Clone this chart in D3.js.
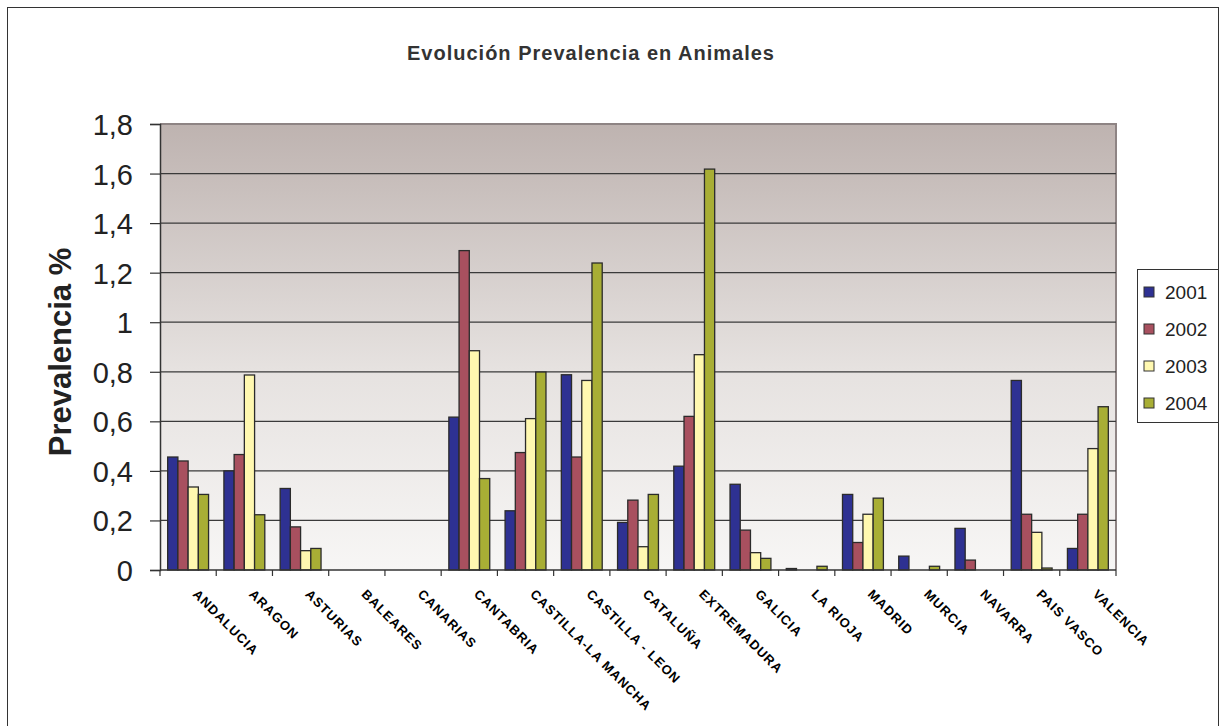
<!DOCTYPE html>
<html>
<head>
<meta charset="utf-8">
<script src="https://cdn.jsdelivr.net/npm/d3@7"></script>
<style>
  body { margin: 0; background: #fff; }
  svg { font-family: "Liberation Sans", Arial, sans-serif; }
</style>
</head>
<body>
<svg width="1220" height="726"></svg>
<script>
// regions and yearly prevalence (%)
const regions = ['ANDALUCIA', 'ARAGON', 'ASTURIAS', 'BALEARES', 'CANARIAS', 'CANTABRIA',
    'CASTILLA-LA MANCHA', 'CASTILLA - LEON', 'CATALUÑA', 'EXTREMADURA', 'GALICIA',
    'LA RIOJA', 'MADRID', 'MURCIA', 'NAVARRA', 'PAIS VASCO', 'VALENCIA'];
const years = ['2001', '2002', '2003', '2004'];
const v2001 = [0.456, 0.40, 0.329, 0, 0, 0.617, 0.239, 0.788, 0.192, 0.419, 0.346, 0.006, 0.305, 0.056, 0.168, 0.765, 0.087];
const v2002 = [0.44, 0.466, 0.174, 0, 0, 1.289, 0.474, 0.456, 0.282, 0.62, 0.161, 0, 0.111, 0, 0.04, 0.225, 0.225];
const v2003 = [0.335, 0.787, 0.078, 0, 0, 0.885, 0.611, 0.765, 0.094, 0.869, 0.07, 0, 0.225, 0, 0, 0.152, 0.49];
const v2004 = [0.305, 0.223, 0.087, 0, 0, 0.369, 0.799, 1.239, 0.305, 1.618, 0.047, 0.015, 0.29, 0.015, 0, 0.008, 0.659];
const yTicks = [0, 0.2, 0.4, 0.6, 0.8, 1, 1.2, 1.4, 1.6, 1.8];

const colors = ['#2E3192', '#A8505F', '#FFF8B0', '#A8AE35'];
const seriesVals = [v2001, v2002, v2003, v2004];

const plot = { left: 160, right: 1116, top: 124, bottom: 570 };

const svg = d3.select('svg');

// outer frame
svg.append('rect')
    .attr('x', 7.5).attr('y', 7.5)
    .attr('width', 1211).attr('height', 730)
    .attr('fill', '#fff')
    .attr('stroke', '#333').attr('stroke-width', 1);

// background gradient for plot area
const grad = svg.append('defs').append('linearGradient')
    .attr('id', 'bg').attr('x1', 0).attr('y1', 0).attr('x2', 0).attr('y2', 1);
grad.append('stop').attr('offset', '0%').attr('stop-color', '#BEB3B0');
grad.append('stop').attr('offset', '55%').attr('stop-color', '#E6E2E0');
grad.append('stop').attr('offset', '100%').attr('stop-color', '#F7F6F5');

svg.append('rect')
    .attr('x', plot.left).attr('y', plot.top)
    .attr('width', plot.right - plot.left).attr('height', plot.bottom - plot.top)
    .attr('fill', 'url(#bg)');

// top and right border of plot area
svg.append('path')
    .attr('d', `M${plot.left},${plot.top}H${plot.right}V${plot.bottom}`)
    .attr('fill', 'none').attr('stroke', '#8E8484').attr('stroke-width', 2);

const x = d3.scaleBand()
    .domain(regions)
    .range([plot.left, plot.right])
    .padding(0);

const xSub = d3.scaleBand()
    .domain(years)
    .range([0, x.bandwidth()])
    .paddingInner(0)
    .paddingOuter(0.75);

const y = d3.scaleLinear()
    .domain([0, 1.8])
    .range([plot.bottom, plot.top]);

const fmt = d3.formatLocale({ decimal: ',', thousands: '.', grouping: [3], currency: ['', '€'] }).format('.1~f');

// gridlines
svg.append('g')
    .selectAll('line')
    .data(yTicks.filter(d => d > 0 && d < 1.8))
    .join('line')
    .attr('x1', plot.left).attr('x2', plot.right)
    .attr('y1', d => y(d)).attr('y2', d => y(d))
    .attr('stroke', '#3a3a3a').attr('stroke-width', 1.2);

// y axis
const yAxis = svg.append('g')
    .attr('transform', `translate(${plot.left}, 0)`)
    .call(d3.axisLeft(y).tickValues(yTicks).tickFormat(fmt).tickSize(10).tickPadding(17));
yAxis.select('.domain').attr('stroke', '#333').attr('stroke-width', 1.5);
yAxis.selectAll('.tick line').attr('stroke', '#333').attr('stroke-width', 1.2);
yAxis.selectAll('text')
    .attr('font-size', 29)
    .attr('fill', '#222')
    .attr('font-family', '"Liberation Sans", Arial, sans-serif')
    .attr('dy', '0.36em');

// bars
const groups = svg.append('g')
    .selectAll('g')
    .data(regions)
    .join('g')
    .attr('transform', d => `translate(${x(d)}, 0)`);

groups.selectAll('rect')
    .data((d, i) => years.map((yr, k) => ({ yr, k, v: seriesVals[k][i] })).filter(e => e.v > 0))
    .join('rect')
    .attr('x', d => xSub(d.yr))
    .attr('width', xSub.bandwidth())
    .attr('y', d => y(d.v))
    .attr('height', d => y(0) - y(d.v))
    .attr('fill', d => colors[d.k])
    .attr('stroke', '#2b2b2b')
    .attr('stroke-width', 1.3);

// x axis with ticks at category boundaries
svg.append('line')
    .attr('x1', plot.left).attr('x2', plot.right)
    .attr('y1', plot.bottom).attr('y2', plot.bottom)
    .attr('stroke', '#333').attr('stroke-width', 1.5);

svg.append('g')
    .selectAll('line')
    .data(d3.range(regions.length + 1))
    .join('line')
    .attr('x1', i => plot.left + i * x.step()).attr('x2', i => plot.left + i * x.step())
    .attr('y1', plot.bottom).attr('y2', plot.bottom + 6)
    .attr('stroke', '#333').attr('stroke-width', 1.2);

// rotated category labels
svg.append('g')
    .selectAll('text')
    .data(regions)
    .join('text')
    .attr('transform', d => `translate(${x(d) + x.bandwidth() / 2 + 4}, ${plot.bottom + 25}) rotate(45)`)
    .attr('font-size', 13)
    .attr('font-weight', 'bold')
    .attr('letter-spacing', 1)
    .attr('fill', '#000')
    .text(d => d);

// title
svg.append('text')
    .attr('x', 591).attr('y', 60)
    .attr('text-anchor', 'middle')
    .attr('font-size', 20)
    .attr('font-weight', 'bold')
    .attr('letter-spacing', 1)
    .attr('fill', '#333')
    .text('Evolución Prevalencia en Animales');

// y axis title
svg.append('text')
    .attr('transform', 'translate(71, 352) rotate(-90)')
    .attr('text-anchor', 'middle')
    .attr('font-size', 31)
    .attr('font-weight', 'bold')
    .attr('fill', '#222')
    .text('Prevalencia %');

// legend
const legend = svg.append('g');
legend.append('rect')
    .attr('x', 1137.5).attr('y', 269.5)
    .attr('width', 81).attr('height', 153)
    .attr('fill', '#fff').attr('stroke', '#333').attr('stroke-width', 1);

const legendY = d3.scalePoint().domain(years).range([292, 403]);

legend.selectAll('rect.sw')
    .data(years)
    .join('rect')
    .attr('class', 'sw')
    .attr('x', 1144).attr('y', d => legendY(d) - 5)
    .attr('width', 10).attr('height', 10)
    .attr('fill', (d, i) => colors[i])
    .attr('stroke', '#333').attr('stroke-width', 1);

legend.selectAll('text')
    .data(years)
    .join('text')
    .attr('x', 1165).attr('y', d => legendY(d))
    .attr('dy', '0.36em')
    .attr('font-size', 19)
    .attr('fill', '#222')
    .text(d => d);
</script>
</body>
</html>
